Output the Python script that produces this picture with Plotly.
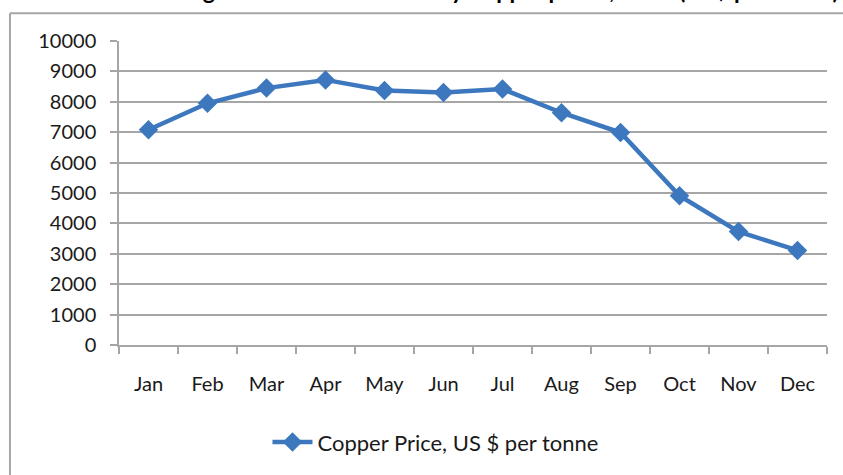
import plotly.graph_objects as go

# Monthly copper prices (US $ per tonne)
months = ["Jan", "Feb", "Mar", "Apr", "May", "Jun",
          "Jul", "Aug", "Sep", "Oct", "Nov", "Dec"]
copper_price = [7080, 7950, 8450, 8720, 8370, 8310,
                8420, 7640, 6990, 4910, 3730, 3110]
y_ticks = [0, 1000, 2000, 3000, 4000, 5000, 6000, 7000, 8000, 9000, 10000]
y_labels = [str(v) for v in y_ticks]

blue = "#3d78be"
grid = "#a6a6a6"
font = "Lato, 'Open Sans', sans-serif"

fig = go.Figure()
fig.add_trace(go.Scatter(
    x=months,
    y=copper_price,
    mode="lines+markers",
    name="Copper Price, US $ per tonne",
    line=dict(color=blue, width=4.5),
    marker=dict(symbol="diamond", size=15, color=blue),
))

# plot area 119..827 x 41..348 px (page body margin removed below)
fig.update_layout(
    width=843,
    height=475,
    margin=dict(l=119, r=16, t=41, b=127),
    paper_bgcolor="white",
    plot_bgcolor="white",
    font=dict(family=font, size=20, color="#1a1a1a"),
    showlegend=True,
    legend=dict(
        orientation="h",
        x=0.447, xanchor="center",
        y=-0.32, yanchor="middle",
        font=dict(size=22),
        itemwidth=40,
    ),
    xaxis=dict(
        type="category",
        range=[-0.5, 11.5],
        showgrid=False,
        showline=True,
        linecolor=grid,
        linewidth=1.5,
        ticks="outside",
        tickson="boundaries",
        ticklen=7,
        tickcolor=grid,
        tickwidth=1.5,
        ticklabelstandoff=20,
    ),
    yaxis=dict(
        range=[0, 10000],
        tickvals=y_ticks,
        ticktext=y_labels,
        showgrid=True,
        gridcolor=grid,
        gridwidth=1.5,
        showline=True,
        linecolor=grid,
        linewidth=1.5,
        ticks="outside",
        ticklen=7,
        tickcolor=grid,
        tickwidth=1.5,
        ticklabelstandoff=10,
        zeroline=False,
    ),
)

# chart frame (only left and top edges are visible in the crop)
fig.add_shape(type="line", xref="paper", yref="paper",
              x0=-0.154, x1=1.1, y0=1.091, y1=1.091,
              line=dict(color=grid, width=2))
fig.add_shape(type="line", xref="paper", yref="paper",
              x0=-0.154, x1=-0.154, y0=1.091, y1=-0.5,
              line=dict(color=grid, width=2))

# title, mostly cropped off the top of the picture
fig.add_annotation(
    text="<b>Figure 1: Trends in Monthly Copper prices, 2008 (US$ per tonne)</b>",
    xref="paper", yref="paper",
    x=1.02, xanchor="right",
    y=1.1156, yanchor="bottom",
    showarrow=False,
    font=dict(size=23, family=font, color="#000000"),
)

fig.write_html(
    "out.html",
    config={"displayModeBar": False},
    post_script="document.body.style.margin='0';",
)
